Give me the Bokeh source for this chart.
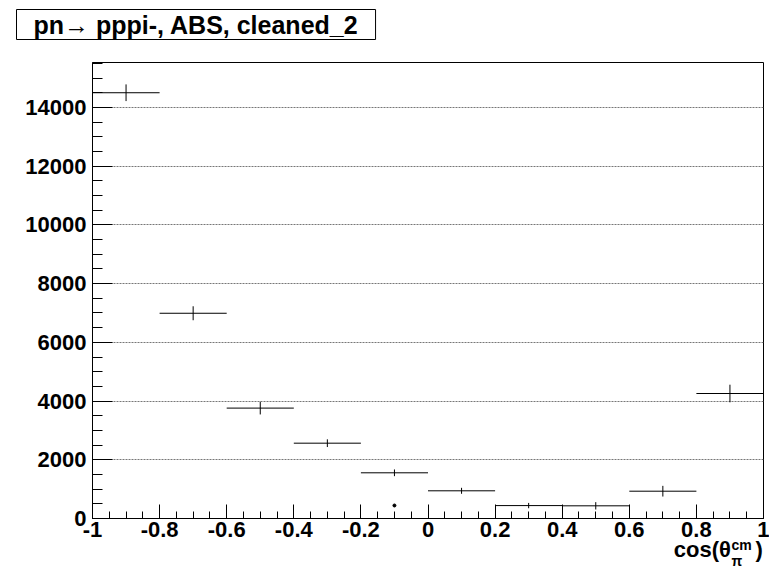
import numpy as np
from bokeh.plotting import figure
from bokeh.models import Range1d, FixedTicker, Label, ColumnDataSource
from bokeh.embed import file_html
from bokeh.resources import INLINE

# ---- data ----
bin_centers = [-0.9, -0.7, -0.5, -0.3, -0.1, 0.1, 0.3, 0.5, 0.7, 0.9]
bin_width = 0.2
counts = [14500, 6990, 3760, 2565, 1556, 943, 440, 432, 930, 4257]
errors = [284, 238, 216, 131, 114, 102, 91, 125, 182, 300]
extra_x = [-0.1]
extra_y = [443]

x_tick_vals = [-1, -0.8, -0.6, -0.4, -0.2, 0, 0.2, 0.4, 0.6, 0.8, 1]
x_tick_labels = ["-1", "-0.8", "-0.6", "-0.4", "-0.2", "0", "0.2", "0.4", "0.6", "0.8", "1"]
y_tick_vals = [0, 2000, 4000, 6000, 8000, 10000, 12000, 14000]
y_tick_labels = ["0", "2000", "4000", "6000", "8000", "10000", "12000", "14000"]

title_text = "pn\u2192 pppi-, ABS, cleaned_2"
xtitle_main = "cos(\u03b8\u00a0\u00a0\u00a0\u00a0)"
xtitle_scripts = "cm\n\u03c0"

FONT = "Liberation Sans"

W, H = 769, 567
L, R, T, B = 92, 6, 62, 49

p = figure(width=W, height=H, output_backend="svg", toolbar_location=None,
           x_range=Range1d(-1, 1), y_range=Range1d(0, 15530),
           min_border_left=L, min_border_right=R, min_border_top=T, min_border_bottom=B)
p.background_fill_color = "white"
p.border_fill_color = "white"
p.outline_line_color = "black"
p.outline_line_width = 1

# axes
xminor = list(np.round(np.arange(-1, 1.0001, 0.05), 3))
yminor = list(np.arange(0, 15501, 500))
p.xaxis.ticker = FixedTicker(ticks=x_tick_vals, minor_ticks=xminor)
p.yaxis.ticker = FixedTicker(ticks=y_tick_vals, minor_ticks=yminor)
p.xaxis.major_label_overrides = {v: s for v, s in zip(x_tick_vals, x_tick_labels)}
p.yaxis.major_label_overrides = {v: s for v, s in zip(y_tick_vals, y_tick_labels)}

for ax in (p.xaxis[0], p.yaxis[0]):
    ax.axis_line_color = "black"
    ax.major_tick_line_color = "black"
    ax.minor_tick_line_color = "black"
    ax.major_tick_out = 0
    ax.minor_tick_out = 0
    ax.major_label_text_font = FONT
    ax.major_label_text_font_style = "bold"
    ax.major_label_text_font_size = "22px"
    ax.major_label_text_color = "black"

p.xaxis.major_tick_in = 14
p.xaxis.minor_tick_in = 7
p.yaxis.major_tick_in = 20
p.yaxis.minor_tick_in = 10
p.xaxis.major_label_standoff = 3
p.yaxis.major_label_standoff = 6

# x-axis title (main part); centred label padded on the left so it ends at the right edge
xa = p.xaxis[0]
xa.axis_label = "\u00a0" * 95 + xtitle_main
xa.axis_label_standoff = -3
xa.axis_label_text_font = FONT
xa.axis_label_text_font_style = "bold"
xa.axis_label_text_font_size = "22px"
xa.axis_label_text_color = "black"

p.xgrid.grid_line_color = None
p.ygrid.grid_line_color = "#777777"
p.ygrid.grid_line_dash = "2 1"
p.ygrid.grid_line_width = 1

# histogram with error bars
lo = [c - bin_width / 2 for c in bin_centers]
hi = [c + bin_width / 2 for c in bin_centers]
ylo = [v - e for v, e in zip(counts, errors)]
yhi = [v + e for v, e in zip(counts, errors)]
src = ColumnDataSource(dict(x=bin_centers, lo=lo, hi=hi, y=counts, ylo=ylo, yhi=yhi))
p.segment(x0="lo", x1="hi", y0="y", y1="y", source=src, line_color="black", line_width=1)
p.segment(x0="x", x1="x", y0="ylo", y1="yhi", source=src, line_color="black", line_width=1)
p.scatter(extra_x, extra_y, size=3, color="black", marker="circle")

# title box (label in the panel above the frame)
p.title = None
p.add_layout(Label(x=-76, y=23, x_units="screen", y_units="screen",
                   text=title_text, text_font=FONT, text_font_style="bold",
                   text_font_size="25px", text_color="black",
                   text_align="left", text_baseline="bottom",
                   border_line_color="black", border_line_width=1,
                   background_fill_color="white", padding=(17, 1)), "above")

# sub/superscripts of the x-axis title (label in the left panel)
p.add_layout(Label(x=729, y=-18, x_units="screen", y_units="screen",
                   text=xtitle_scripts, text_font=FONT, text_font_style="bold",
                   text_font_size="14px", text_color="black", text_line_height=1.0,
                   text_align="left", text_baseline="top"), "left")

open("out.html", "w").write(file_html(p, INLINE))
